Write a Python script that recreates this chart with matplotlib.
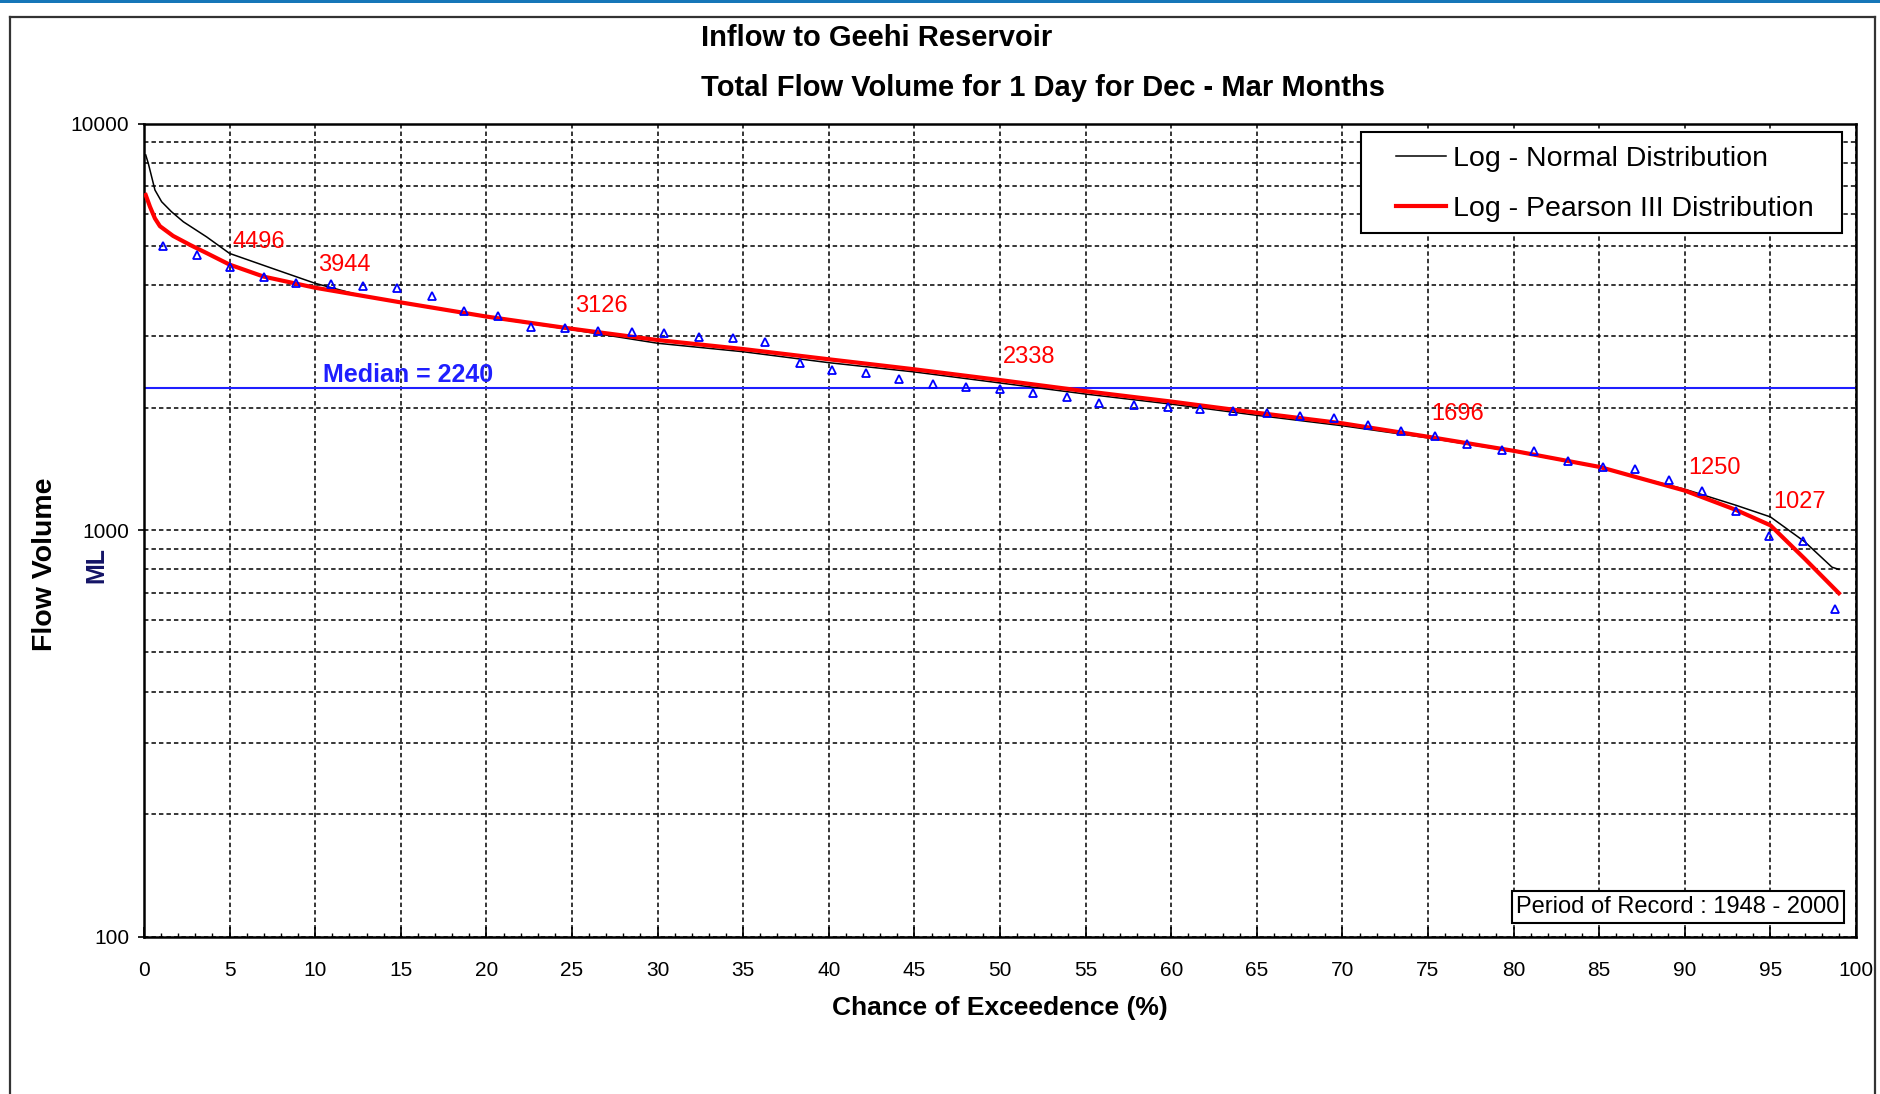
import matplotlib
matplotlib.use("Agg")
import matplotlib.pyplot as plt
from matplotlib.ticker import FixedLocator, NullFormatter, MultipleLocator
from matplotlib.lines import Line2D
from matplotlib.patches import Rectangle

# ---------------- data ----------------
obs_x = [1.1, 3.1, 5.0, 7.0, 8.9, 10.9, 12.8, 14.8, 16.8, 18.7,
         20.7, 22.6, 24.6, 26.5, 28.5, 30.4, 32.4, 34.4, 36.3, 38.3,
         40.2, 42.2, 44.1, 46.1, 48.0, 50.0, 51.9, 53.9, 55.8, 57.8,
         59.8, 61.7, 63.6, 65.6, 67.5, 69.5, 71.5, 73.4, 75.4, 77.3,
         79.3, 81.2, 83.2, 85.2, 87.1, 89.1, 91.0, 93.0, 94.9, 96.9, 98.8]
obs_y = [4995, 4740, 4430, 4180, 4045, 4030, 3990, 3930, 3770, 3460,
         3360, 3165, 3135, 3090, 3065, 3060, 2990, 2960, 2895, 2580,
         2475, 2435, 2350, 2290, 2250, 2220, 2175, 2125, 2055, 2030,
         2005, 1985, 1960, 1945, 1905, 1885, 1815, 1755, 1700, 1625,
         1575, 1565, 1480, 1425, 1415, 1325, 1250, 1115, 965, 940, 640]

lp3_x = [0.1, 0.35, 0.64, 0.93, 1.7, 2.7, 3.7, 5, 7, 10, 15, 20, 25, 30, 35,
         40, 45, 50, 55, 60, 65, 70, 75, 80, 85, 90, 93, 95, 97, 99]
lp3_y = [6670, 6240, 5840, 5590, 5290, 5025, 4790, 4496, 4200, 3944, 3630,
         3350, 3126, 2933, 2787, 2630, 2485, 2338, 2195, 2070, 1943, 1830,
         1696, 1566, 1430, 1250, 1120, 1027, 850, 699]

ln_x = [0.1, 0.25, 0.64, 1.03, 1.6, 2.3, 3.66, 5, 7.5, 10, 12.5, 15, 20, 25,
        30, 35, 40, 45, 50, 55, 60, 65, 70, 75, 80, 85, 90, 93, 95, 97, 98.6, 99]
ln_y = [8370, 7980, 6860, 6420, 6070, 5730, 5260, 4790, 4400, 4044, 3790,
        3620, 3340, 3110, 2880, 2745, 2580, 2448, 2300, 2160, 2040, 1915,
        1805, 1685, 1560, 1426, 1260, 1150, 1077, 936, 810, 800]

label_x = [5, 10, 25, 50, 75, 90, 95]
label_v = [4496, 3944, 3126, 2338, 1696, 1250, 1027]

median_value = 2240

title1 = "Inflow to Geehi Reservoir"
title2 = "Total Flow Volume for 1 Day for Dec - Mar Months"
xlabel = "Chance of Exceedence (%)"
ylabel1 = "Flow Volume"
ylabel2 = "ML"
legend_labels = ["Log - Normal Distribution", "Log - Pearson III Distribution"]
record_text = "Period of Record : 1948 - 2000"
ytick_vals = [100, 1000, 10000]
ytick_labels = ["100", "1000", "10000"]
xtick_vals = list(range(0, 101, 5))

# ---------------- figure ----------------
W, H = 1881, 1094
DPI = 100
plt.rcParams['font.family'] = ['Liberation Sans', 'DejaVu Sans']
fig = plt.figure(figsize=(W / DPI, H / DPI), dpi=DPI)
fig.patch.set_facecolor('white')

def fx(px):
    return px / W

def fy(py):
    return 1 - py / H

# outer frame lines and top blue bar
fig.add_artist(Line2D([fx(10), fx(10)], [fy(17), fy(1100)], color='#333333', lw=1.6))
fig.add_artist(Line2D([fx(10), fx(1875)], [fy(17), fy(17)], color='#333333', lw=1.6))
fig.add_artist(Line2D([fx(1875), fx(1875)], [fy(17), fy(1100)], color='#333333', lw=1.6))
fig.add_artist(Rectangle((0, fy(3)), 1, 3 / H, transform=fig.transFigure,
                         facecolor='#1576b8', edgecolor='none'))

ax_left, ax_right, ax_top, ax_bot = 144, 1856, 123.5, 936.5
ax = fig.add_axes([fx(ax_left), fy(ax_bot), (ax_right - ax_left) / W, (ax_bot - ax_top) / H])

ax.set_yscale('log')
ax.set_xlim(0, 100)
ax.set_ylim(100, 10000)

# grid
grid_kw = dict(color='black', lw=1.1, linestyle=(0, (2.9, 2.0)))
ax.yaxis.set_major_locator(FixedLocator(ytick_vals))
ax.set_yticklabels(ytick_labels)
minor_y = [m * d for d in (100, 1000) for m in range(2, 10)]
ax.yaxis.set_minor_locator(FixedLocator(minor_y))
ax.yaxis.set_minor_formatter(NullFormatter())
ax.xaxis.set_major_locator(FixedLocator(xtick_vals))
ax.xaxis.set_minor_locator(MultipleLocator(1))
ax.grid(True, which='major', axis='both', **grid_kw)
ax.grid(True, which='minor', axis='y', **grid_kw)
ax.set_axisbelow(True)

for s in ax.spines.values():
    s.set_linewidth(1.8)
    s.set_color('black')

ax.tick_params(axis='x', which='major', direction='in', length=7, width=1.2,
               labelsize=15, pad=17.5, top=False)
ax.tick_params(axis='x', which='minor', direction='in', length=3, width=1.0, top=False)
ax.tick_params(axis='y', which='major', direction='out', length=4.5, width=1.2,
               labelsize=15, pad=6, right=False)
ax.tick_params(axis='y', which='minor', length=0)

# median line
ax.axhline(median_value, color='#1f1fff', lw=1.5, zorder=2)
ax.annotate(f"Median = {median_value}", xy=(10, median_value), xytext=(8, 6),
            textcoords='offset pixels', ha='left', va='baseline',
            color='#1f1fff', fontsize=18, fontweight='bold', zorder=6)

# curves
l_ln, = ax.plot(ln_x, ln_y, color='black', lw=1.1, zorder=3)
l_lp3, = ax.plot(lp3_x, lp3_y, color='#ff0000', lw=3.0, zorder=4)
ax.plot(obs_x, obs_y, linestyle='none', marker='^', markersize=5.8,
        markerfacecolor='none', markeredgecolor='#0000ff', markeredgewidth=1.3, zorder=5)

# red value labels
for xv, v in zip(label_x, label_v):
    ax.annotate(f"{v}", xy=(xv, v), xytext=(3, 17), textcoords='offset pixels',
                ha='left', va='baseline', color='#ff0000', fontsize=17, zorder=6)

# legend (frame drawn separately as a box)
fig.add_artist(Rectangle((fx(1361), fy(233)), (1842 - 1361) / W, (233 - 132) / H,
                         transform=fig.transFigure, facecolor='white',
                         edgecolor='black', lw=1.5, zorder=1.5))
leg = fig.legend([l_ln, l_lp3], legend_labels, loc='upper left',
                 bbox_to_anchor=(fx(1396), fy(146)), bbox_transform=fig.transFigure,
                 borderaxespad=0, borderpad=0, frameon=False,
                 fontsize=20.5, handlelength=1.75, handletextpad=0.25,
                 labelspacing=0.83)
leg.set_zorder(6)

# period of record box
fig.text(fx(1678), fy(907), record_text, ha='center', va='center', fontsize=17,
         bbox=dict(boxstyle='square,pad=0.2', facecolor='white', edgecolor='black', lw=1.5),
         zorder=10)

# titles and labels
fig.text(fx(701), fy(38), title1, ha='left', va='center', fontsize=21, fontweight='bold')
fig.text(fx(701), fy(88), title2, ha='left', va='center', fontsize=21, fontweight='bold')
fig.text(fx(1000), fy(1008), xlabel, ha='center', va='center', fontsize=19, fontweight='bold')
fig.text(fx(45), fy(564), ylabel1, ha='center', va='center', rotation=90,
         fontsize=20.5, fontweight='bold')
fig.text(fx(96), fy(565), ylabel2, ha='center', va='center', rotation=90,
         fontsize=18, fontweight='bold', color='#141466')

fig.savefig('out.png', dpi=DPI, facecolor='white')
